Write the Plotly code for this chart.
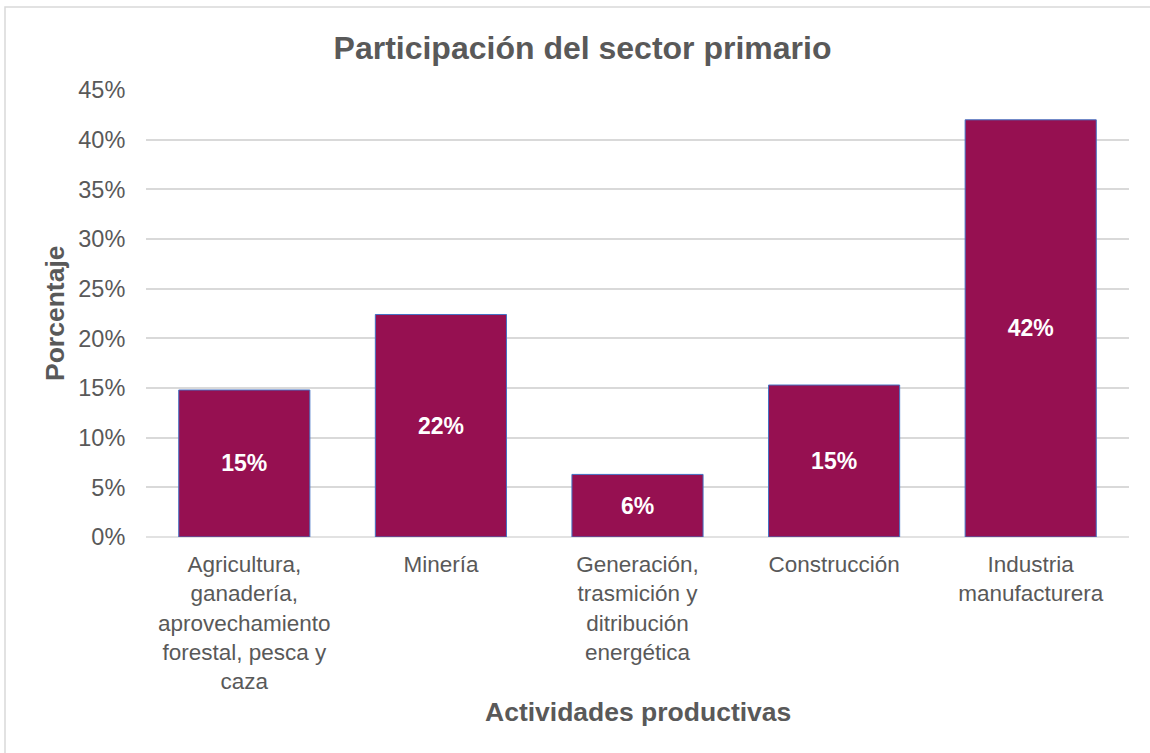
import plotly.graph_objects as go

categories = [
    "Agricultura,<br>ganadería,<br>aprovechamiento<br>forestal, pesca y<br>caza",
    "Minería",
    "Generación,<br>trasmición y<br>ditribución<br>energética",
    "Construcción",
    "Industria<br>manufacturera",
]
values = [14.8, 22.4, 6.3, 15.3, 42.0]
labels = ["15%", "22%", "6%", "15%", "42%"]
y_ticks = [0, 5, 10, 15, 20, 25, 30, 35, 40, 45]
y_ticktext = [f"{v}%" for v in y_ticks]

FONT = "Liberation Sans, Arial, sans-serif"
GRAY = "#595959"

W, H = 1150, 753
ML, MR, MT, MB = 146, 21, 90, 216
plot_w = W - ML - MR
plot_h = H - MT - MB

def px_x(x):
    return (x - ML) / plot_w

def px_y(y):
    return (H - MB - y) / plot_h

fig = go.Figure()
fig.add_trace(go.Bar(
    x=categories,
    y=values,
    text=labels,
    textposition="inside",
    insidetextanchor="middle",
    textangle=0,
    textfont=dict(family=FONT, size=23, color="white", weight="bold"),
    marker=dict(color="#961051", line=dict(color="#4472c4", width=1)),
    width=0.667,
    hoverinfo="skip",
))

fig.update_layout(
    width=W, height=H,
    margin=dict(l=ML, r=MR, t=MT, b=MB),
    paper_bgcolor="white",
    plot_bgcolor="white",
    showlegend=False,
    font=dict(family=FONT, color=GRAY, size=18),
    title=dict(
        text="<b>Participación del sector primario</b>",
        x=px_x(582.5), xref="paper", xanchor="center",
        y=1 - 48 / H, yref="container", yanchor="middle",
        font=dict(family=FONT, size=32, color=GRAY),
    ),
    xaxis=dict(
        showgrid=False, zeroline=False, showline=False,
        ticks="outside", ticklen=7, tickcolor="rgba(0,0,0,0)",
        tickfont=dict(family=FONT, size=22.5, color=GRAY),
        fixedrange=True,
    ),
    yaxis=dict(
        range=[0, 45],
        tickvals=y_ticks, ticktext=y_ticktext,
        showgrid=True, gridcolor="#d9d9d9", gridwidth=1.5,
        zeroline=False, showline=False,
        ticks="outside", ticklen=15, tickcolor="rgba(0,0,0,0)",
        tickfont=dict(family=FONT, size=23.5, color=GRAY),
        fixedrange=True,
    ),
    annotations=[
        dict(text="<b>Porcentaje</b>", x=px_x(55), y=px_y(313), xref="paper", yref="paper",
             xanchor="center", yanchor="middle",
             showarrow=False, textangle=-90, font=dict(family=FONT, size=26.5, color=GRAY)),
        dict(text="<b>Actividades productivas</b>", x=px_x(638), y=px_y(712),
             xref="paper", yref="paper", xanchor="center", yanchor="middle",
             showarrow=False, font=dict(family=FONT, size=26.5, color=GRAY)),
    ],
    shapes=[
        dict(type="line", xref="paper", yref="paper", x0=0, x1=1, y0=0, y1=0,
             line=dict(color="#d9d9d9", width=1.5), layer="below"),
        dict(type="rect", xref="paper", yref="paper",
             x0=px_x(5), x1=px_x(1153), y0=px_y(756), y1=px_y(7),
             line=dict(color="#d9d9d9", width=1.5), layer="below"),
    ],
)

fig.write_html("out.html")
